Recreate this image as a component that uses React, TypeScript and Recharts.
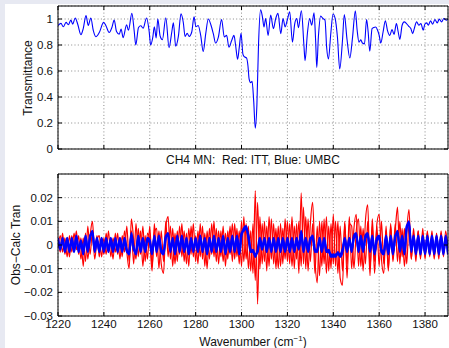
import React from 'react';
import { LineChart, Line, XAxis, YAxis, CartesianGrid } from 'recharts';

// ---------- Top panel: transmittance ----------
const TRANS_WN = [
  1220, 1221.3, 1222.3, 1223.5, 1224.5, 1225.6, 1226.4, 1227.5, 1228.6, 1230,
  1231, 1232.2, 1233.2, 1234.3, 1235.4, 1236.5, 1238, 1239.9, 1240.9, 1242.3,
  1243.5, 1244.5, 1245.5, 1246.7, 1247.5, 1248.4, 1249.9, 1250.7, 1252.2, 1253.2,
  1253.9, 1255.1, 1256.1, 1257.1, 1258.6, 1259.7, 1260.4, 1261.3, 1262, 1262.8,
  1263.5, 1264.5, 1265.5, 1267, 1268.4, 1269.6, 1270.3, 1271.3, 1272.5, 1273.6,
  1274.6, 1275.4, 1276.3, 1277.2, 1278.3, 1279.3, 1280.1, 1281.1, 1282.2, 1283.3,
  1284.4, 1285.5, 1286.7, 1287.7, 1288.7, 1289.9, 1291.3, 1292.5, 1293.5, 1294.5,
  1295.7, 1296.7, 1297.4, 1298.3, 1299, 1299.8, 1300.6, 1301.2, 1302.2, 1302.8,
  1303.3, 1304, 1304.6, 1305.3, 1306, 1306.7, 1307.4, 1308.3, 1309.1, 1309.8,
  1310.5, 1311.6, 1312.7, 1313.9, 1314.9, 1315.9, 1317.1, 1318.1, 1319, 1320,
  1321, 1322.2, 1323.2, 1324.1, 1324.8, 1326.1, 1327.2, 1327.7, 1328.7, 1329.7,
  1330.6, 1331.6, 1332.3, 1332.8, 1333.5, 1334.5, 1335.5, 1336.4, 1337.1, 1337.9,
  1338.9, 1339.9, 1340.8, 1341.8, 1342.8, 1344, 1344.8, 1346, 1347.2, 1348.4,
  1349.6, 1350.4, 1351.2, 1352, 1352.7, 1353.6, 1354.5, 1355.2, 1355.9, 1356.9,
  1357.6, 1358.5, 1359.3, 1360, 1360.7, 1361.7, 1362.7, 1363.6, 1364.6, 1365.6,
  1366.5, 1367.5, 1368.3, 1369, 1370, 1370.9, 1371.9, 1372.9, 1373.8, 1374.6,
  1375.3, 1376.3, 1377.3, 1378.2, 1379.2, 1379.9, 1380.7, 1381.4, 1382.4, 1383.3,
  1384.3, 1385.3, 1386.2, 1387.2, 1388.2, 1389.3, 1390,
];

const TRANS_T = [
  0.95, 0.966, 0.94, 0.974, 0.956, 0.991, 0.96, 1.008, 0.96, 0.88,
  0.926, 1.026, 0.95, 1.008, 0.91, 0.863, 0.896, 0.974, 0.948, 0.896,
  0.935, 0.991, 0.904, 0.883, 0.922, 0.857, 0.956, 0.913, 1.043, 0.91,
  0.8, 0.935, 0.948, 0.93, 1.008, 0.91, 0.8, 0.857, 0.94, 0.855,
  1.0, 0.87, 0.84, 1.01, 0.78, 0.9, 0.97, 0.79, 0.87, 1.04,
  0.975, 0.866, 0.89, 0.866, 0.9, 1.017, 0.94, 0.95, 0.874, 0.75,
  0.887, 1.0, 0.952, 0.887, 0.815, 0.861, 0.996, 0.861, 0.874, 0.783,
  0.835, 0.874, 0.8, 0.69, 0.78, 0.89, 0.73, 0.71, 0.7, 0.64,
  0.54, 0.51, 0.52, 0.37, 0.16, 0.34, 0.8, 1.07, 1.017, 0.939,
  1.004, 0.874, 1.03, 0.926, 1.004, 1.043, 0.887, 1.004, 0.939, 0.996,
  1.056, 0.822, 0.965, 1.004, 0.934, 1.064, 0.796, 0.68, 0.887, 1.004,
  0.952, 1.048, 0.835, 0.628, 0.861, 1.022, 1.004, 0.991, 0.783, 0.693,
  0.887, 1.038, 1.004, 0.861, 0.615, 0.835, 1.035, 0.84, 0.7, 0.861,
  1.064, 0.913, 0.822, 0.84, 0.815, 0.809, 0.996, 0.9, 0.752, 0.926,
  0.934, 0.939, 0.913, 0.874, 0.815, 0.9, 0.986, 0.913, 0.874, 0.918,
  0.882, 0.965, 0.9, 0.843, 0.952, 0.978, 0.965, 0.944, 0.926, 0.887,
  0.926, 0.978, 0.952, 0.965, 0.913, 0.96, 0.97, 0.952, 0.986, 0.96,
  0.996, 0.97, 0.999, 0.978, 1.004, 0.99, 1.0,
];

// ---------- Bottom panel: Obs-Calc residuals (units of 0.001), one value per cm-1 from 1220 ----------
const RES_START_WN = 1220;

const RED_ITT_A = [
  2, -3, 5, -4, 3, -5, 4, -2, 6, -4,
  3, -9, 5, -6, 4, 10, -3, 4, -5, 3,
  -4, 5, -3, 2, -6, 5, -4, 3, -5, 6,
  -3, -10, 11, 2, -6, 7, -4, 8, -7, 5,
  2, -11, 9, -5, 6, -8, -12, 8, 12, -6,
  7, -8, 6, -4, 9, -7, 5, -9, 8, -5,
  4, -8, 9, -6, 5, -10, 7, -4, 10, -7,
  6, -5, 8, -9, 6, -4, 9, -6, 7, -8,
  10, -7, 9, -10, 6, -12, 23, -25, 12, -8,
  10, -11, 12, -6, 9, -10, 8, -9, 7, -6,
  10, -8, 12, -10, 9, -12, 22, -8, 12, -11,
  9, 18, -6, -16, 10, -9, 11, -12, 8, -10,
  13, -9, 10, -14, -17, 9, -8, 12, -10, 7,
  13, -9, 8, -11, 10, 17, -10, 8, -12, 9,
  13, -6, -12, 8, -10, 9, -7, 6, 16, -8,
  7, -9, 6, 15, -6, 5, -7, 6, -5, 7,
  -6, 5, -4, 6, -5, 4, -6, 5, -4, 6,
  -3,
];

const RED_ITT_B = [
  -1, 4, -3, 3, -5, 4, -3, 5, -2, 4,
  -6, 3, -7, 8, -4, 6, -6, 2, 4, -5,
  3, -4, 6, -5, 3, -3, 5, -6, 4, -3,
  8, -7, 6, -8, 9, -5, 6, -9, 4, -6,
  8, -9, 5, 7, -10, 6, -7, 10, -5, 8,
  -9, 5, -7, 8, -5, 6, -8, 7, -4, 9,
  -7, 6, -5, 8, -9, 6, -6, 9, -5, 7,
  -8, 6, -7, 5, -6, 8, -7, 9, -5, 6,
  -9, 12, -6, 8, -11, 9, -15, 18, -10, 9,
  -7, 8, -9, 11, -8, 7, -10, 9, -8, 11,
  -7, 9, -9, 8, -6, 10, -9, 16, -10, 11,
  -7, 9, -12, 8, -13, 10, -8, 12, -11, 9,
  -8, 10, -12, 8, -11, 10, -14, 9, 8, -10,
  6, 11, -9, 7, -8, 10, -13, 11, -7, 8,
  -9, 10, -8, 6, -11, 8, -6, 9, -7, 10,
  -5, 7, -8, 9, -6, 7, -5, 6, -6, 5,
  -5, 6, -5, 4, -6, 5, -4, 6, -5, 4,
  -4,
];

const BLUE_UMBC_A = [
  2, -2, 3, -3, 2, -3, 3, -2, 4, -3,
  2, -4, 3, -3, 4, 5, -2, 3, -3, 2,
  -3, 3, -2, 2, -3, 3, -3, 2, -3, 3,
  -2, -4, 5, -2, -3, 4, -2, 3, -3, 2,
  1, -4, 4, -3, 3, -3, -4, 3, 5, -3,
  3, -4, 3, -2, 4, -3, 2, -4, 3, -2,
  2, -3, 4, -3, 2, -4, 3, -2, 4, -3,
  3, -2, 4, -4, 3, -2, 4, -3, 3, -4,
  4, 7, 8, 3, -3, -2, -5, -2, 3, -1,
  2, -3, 3, -2, 2, -3, 3, -2, 2, -3,
  3, -2, 3, -3, 2, -2, 6, -2, 3, -3,
  2, 4, -2, -3, 3, -2, 2, -3, -2, -5,
  -4, -5, -3, -5, -3, 3, -2, 3, -3, 4,
  5, -3, 3, -3, 4, 5, -3, 3, -4, 3,
  4, -3, -4, 3, -4, 4, -3, 3, 6, -3,
  3, -4, 7, 10, -2, 4, -4, 4, -3, 4,
  -4, 4, -4, 3, -4, 4, -4, 3, -4, 4,
  -3,
];

const BLUE_UMBC_B = [
  3, -1, 2, -2, 3, -2, 2, -3, 3, -2,
  1, -3, 4, -2, 3, 6, -3, 2, -2, 3,
  -2, 2, -3, 3, -2, 2, -2, 3, -2, 2,
  -3, -3, 4, -1, -4, 3, -3, 2, -2, 3,
  2, -3, 3, -2, 4, -2, -3, 4, 4, -2,
  2, -3, 4, -3, 3, -2, 3, -3, 2, -3,
  3, -2, 3, -2, 3, -3, 2, -3, 3, -2,
  2, -3, 3, -3, 2, -3, 3, -2, 4, -3,
  5, 6, 7, 4, -2, -3, -4, -3, 2, -2,
  3, -2, 2, -3, 3, -2, 2, -3, 3, -2,
  2, -3, 2, -2, 3, -1, 5, -3, 2, -2,
  3, 3, -3, -2, 2, -3, 3, -2, -3, -4,
  -5, -4, -4, -4, -2, 2, -3, 2, -2, 3,
  4, -2, 4, -2, 3, 4, -2, 4, -3, 2,
  3, -2, -3, 4, -3, 3, -4, 4, 5, -2,
  4, -3, 8, 9, -3, 3, -3, 3, -4, 3,
  -3, 3, -3, 4, -3, 3, -3, 4, -3, 3,
  -4,
];

// ---------- Axes ----------
const X_DOMAIN: [number, number] = [1220, 1390];
const X_TICKS = [1220, 1240, 1260, 1280, 1300, 1320, 1340, 1360, 1380];
const TOP_Y_DOMAIN: [number, number] = [0, 1.1];
const TOP_Y_TICKS = [0, 0.2, 0.4, 0.6, 0.8, 1];
const BOT_Y_DOMAIN: [number, number] = [-0.03, 0.03];
const BOT_Y_TICKS = [-0.03, -0.02, -0.01, 0, 0.01, 0.02];

const TITLE = 'CH4 MN:  Red: ITT, Blue: UMBC';
const TOP_Y_LABEL = 'Transmittance';
const BOT_Y_LABEL = 'Obs\u2212Calc Tran';

const topData = TRANS_WN.map((wn, i) => ({ wn, t: TRANS_T[i] }));
const resData = RED_ITT_A.map((v, i) => ({
  wn: RES_START_WN + i,
  ra: v / 1000,
  rb: RED_ITT_B[i] / 1000,
  ba: BLUE_UMBC_A[i] / 1000,
  bb: BLUE_UMBC_B[i] / 1000,
}));

const FONT = '"Liberation Sans", Arial, Helvetica, sans-serif';

function fmtTick(v: number): string {
  if (Math.abs(v) < 1e-9) return '0';
  const s = String(Math.abs(+v.toFixed(2)));
  return v < 0 ? '\u2212' + s : s;
}
const blank = () => '';

const axisStroke = { stroke: '#000', strokeWidth: 1 };
const tickStyle = { fill: '#111', fontSize: 11.5, fontFamily: FONT };

export default function App() {
  return (
    <div style={{ position: 'absolute', left: 0, top: 0, width: 449, height: 348, background: '#fff', overflow: 'hidden' }}>
      <div style={{ position: 'absolute', left: 0, top: 0, width: 449, height: 4, background: '#e7e9f2' }} />
      <div style={{ position: 'absolute', left: 0, top: 0, width: 5, height: 348, background: '#e7e9f2' }} />

      <div style={{ position: 'absolute', left: 0, top: 0 }}>
        <LineChart width={449} height={160} data={topData} margin={{ top: 0, right: 0, bottom: 1, left: 0 }}>
          <CartesianGrid xAxisId="b" yAxisId="l" stroke="#8a8a8a" strokeDasharray="1 2.3" />
          <XAxis xAxisId="b" dataKey="wn" type="number" domain={X_DOMAIN} ticks={X_TICKS} allowDataOverflow
            height={10} tickSize={-4} tickFormatter={blank} axisLine={axisStroke} tickLine={axisStroke} />
          <XAxis xAxisId="t" orientation="top" dataKey="wn" type="number" domain={X_DOMAIN} ticks={X_TICKS} allowDataOverflow
            height={6} tickSize={-4} tickFormatter={blank} axisLine={axisStroke} tickLine={axisStroke} />
          <YAxis yAxisId="l" type="number" domain={TOP_Y_DOMAIN} ticks={TOP_Y_TICKS} allowDataOverflow width={58}
            tickSize={-4} tickMargin={9} tickFormatter={fmtTick} tick={tickStyle} axisLine={axisStroke} tickLine={axisStroke} />
          <YAxis yAxisId="r" orientation="right" type="number" domain={TOP_Y_DOMAIN} ticks={TOP_Y_TICKS} allowDataOverflow width={1}
            tickSize={-4} tickFormatter={blank} axisLine={axisStroke} tickLine={axisStroke} />
          <Line xAxisId="b" yAxisId="l" dataKey="t" type="monotone" stroke="#0000ff" strokeWidth={1.1}
            dot={false} activeDot={false} isAnimationActive={false} />
        </LineChart>
      </div>

      <div style={{ position: 'absolute', left: 0, top: 168 }}>
        <LineChart width={449} height={180} data={resData} margin={{ top: 0, right: 0, bottom: 0, left: 0 }}>
          <CartesianGrid xAxisId="b" yAxisId="l" stroke="#8a8a8a" strokeDasharray="1 2.3" />
          <XAxis xAxisId="b" dataKey="wn" type="number" domain={X_DOMAIN} ticks={X_TICKS} allowDataOverflow
            height={32} tickSize={-4} tickMargin={8} tick={tickStyle} axisLine={axisStroke} tickLine={axisStroke} />
          <XAxis xAxisId="t" orientation="top" dataKey="wn" type="number" domain={X_DOMAIN} ticks={X_TICKS} allowDataOverflow
            height={6} tickSize={-4} tickFormatter={blank} axisLine={axisStroke} tickLine={axisStroke} />
          <YAxis yAxisId="l" type="number" domain={BOT_Y_DOMAIN} ticks={BOT_Y_TICKS} allowDataOverflow width={58}
            tickSize={-4} tickMargin={9} tickFormatter={fmtTick} tick={tickStyle} axisLine={axisStroke} tickLine={axisStroke} />
          <YAxis yAxisId="r" orientation="right" type="number" domain={BOT_Y_DOMAIN} ticks={BOT_Y_TICKS} allowDataOverflow width={1}
            tickSize={-4} tickFormatter={blank} axisLine={axisStroke} tickLine={axisStroke} />
          <Line xAxisId="b" yAxisId="l" dataKey="ra" type="monotone" stroke="#ff0000" strokeWidth={1.2}
            dot={false} activeDot={false} isAnimationActive={false} />
          <Line xAxisId="b" yAxisId="l" dataKey="rb" type="monotone" stroke="#ff0000" strokeWidth={1.2}
            dot={false} activeDot={false} isAnimationActive={false} />
          <Line xAxisId="b" yAxisId="l" dataKey="ba" type="monotone" stroke="#0000ff" strokeWidth={2.2}
            dot={false} activeDot={false} isAnimationActive={false} />
          <Line xAxisId="b" yAxisId="l" dataKey="bb" type="monotone" stroke="#0000ff" strokeWidth={2.2}
            dot={false} activeDot={false} isAnimationActive={false} />
        </LineChart>
      </div>

      <svg width={449} height={348} style={{ position: 'absolute', left: 0, top: 0, pointerEvents: 'none' }}>
        <text x={253} y={163.5} textAnchor="middle" fontFamily={FONT} fontSize={12} fill="#111" style={{ whiteSpace: 'pre' }}>
          {TITLE}
        </text>
        <text x={253} y={345.5} textAnchor="middle" fontFamily={FONT} fontSize={12} fill="#111">
          Wavenumber (cm<tspan fontSize={8} dy={-5}>{'\u22121'}</tspan><tspan dy={5}>)</tspan>
        </text>
        <text transform="translate(32,78) rotate(-90)" textAnchor="middle" fontFamily={FONT} fontSize={12} fill="#111">
          {TOP_Y_LABEL}
        </text>
        <text transform="translate(19.5,245) rotate(-90)" textAnchor="middle" fontFamily={FONT} fontSize={12} fill="#111">
          {BOT_Y_LABEL}
        </text>
      </svg>
    </div>
  );
}
